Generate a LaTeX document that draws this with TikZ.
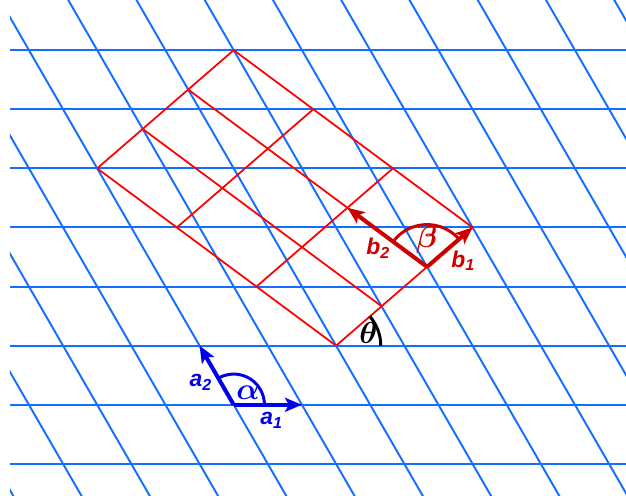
\documentclass[tikz,border=0pt]{standalone}
\usepackage{amsmath}
\usepackage{bm}
\usepackage{fontspec}
\usepackage{tikz}
\usetikzlibrary{arrows.meta}
\newfontfamily\labfont{Liberation Sans}
\definecolor{cGrid}{RGB}{20,110,255}
\definecolor{cA}{RGB}{0,0,235}
\definecolor{cRed}{RGB}{255,0,0}
\definecolor{cB}{RGB}{205,0,0}
\tikzset{
  gridline/.style={cGrid,line width=1.1pt},
  superline/.style={cRed,line width=1.0pt},
  avec/.style={cA,line width=2.3pt,-{Stealth[length=3.4mm,width=2.8mm,inset=0.8mm]}},
  bvec/.style={cB,line width=2.3pt,-{Stealth[length=3.4mm,width=2.8mm,inset=0.8mm]}},
  anglearc/.style={line width=1.7pt},
  veclab/.style={font=\labfont\bfseries\itshape\fontsize{13}{15}\selectfont},
  anglab/.style={font=\fontsize{16}{18}\selectfont}
}

\begin{document}
\begin{tikzpicture}[x=1.365cm,y=1.365cm]
\useasboundingbox (-3.424,-1.336) rectangle (5.748,5.931);
\begin{scope}
\clip (-3.278,-1.336) rectangle (5.748,5.931);
% horizontal rows
\draw[gridline] (-3.278,-0.866) -- (5.748,-0.866)
  (-3.278,0) -- (5.748,0)
  (-3.278,0.866) -- (5.748,0.866)
  (-3.278,1.732) -- (5.748,1.732)
  (-3.278,2.603) -- (5.748,2.603)
  (-3.278,3.464) -- (5.748,3.464)
  (-3.278,4.330) -- (5.748,4.330)
  (-3.278,5.196) -- (5.748,5.196);
% oblique rows
\draw[gridline] (-3,-1.732) -- (-7.5,6.062);
\draw[gridline] (-2,-1.732) -- (-6.5,6.062);
\draw[gridline] (-1,-1.732) -- (-5.5,6.062);
\draw[gridline] (0,-1.732) -- (-4.5,6.062);
\draw[gridline] (1,-1.732) -- (-3.5,6.062);
\draw[gridline] (2,-1.732) -- (-2.5,6.062);
\draw[gridline] (3,-1.732) -- (-1.5,6.062);
\draw[gridline] (4,-1.732) -- (-0.5,6.062);
\draw[gridline] (5,-1.732) -- (0.5,6.062);
\draw[gridline] (6,-1.732) -- (1.5,6.062);
\draw[gridline] (7,-1.732) -- (2.5,6.062);
\draw[gridline] (8,-1.732) -- (3.5,6.062);
\draw[gridline] (9,-1.732) -- (4.5,6.062);
\draw[gridline] (10,-1.732) -- (5.5,6.062);
\end{scope}
% red cell
\draw[superline] (1.5,0.866) -- (-2,3.4641);
\draw[superline] (2.1667,1.4434) -- (-1.3333,4.0415);
\draw[superline] (2.8333,2.0207) -- (-0.6667,4.6188);
\draw[superline] (3.5,2.5981) -- (0,5.1962);
\draw[superline] (1.5,0.866) -- (3.5,2.5981);
\draw[superline] (0.3333,1.7321) -- (2.3333,3.4641);
\draw[superline] (-0.8333,2.5981) -- (1.1667,4.3301);
\draw[superline] (-2,3.4641) -- (0,5.1962);
\coordinate (O) at (0,0);
\coordinate (A1) at (1,0);
\coordinate (A2) at (-0.5,0.866);
\coordinate (B) at (1.5,0.866);
\coordinate (P) at (2.8333,2.0207);
\coordinate (B1) at (3.5,2.5981);
\coordinate (B2) at (1.6667,2.8868);
\draw[anglearc,cA] (O) ++(0:0.45) arc[start angle=0,end angle=120,radius=0.45];
\draw[anglearc,black] (B) ++(0:0.655) arc[start angle=0,end angle=40.9,radius=0.655];
\draw[anglearc,cB] (P) ++(40.9:0.62) arc[start angle=40.9,end angle=143.4,radius=0.62];
\draw[avec] (O) -- (A1);
\draw[avec] (O) -- (A2);
\draw[bvec] (P) -- (B1);
\draw[bvec] (P) -- (B2);
\node[veclab,cA] (la1) at (0.557,-0.223) {a\textsubscript{1}};
\node[veclab,cA] (la2) at (-0.482,0.331) {a\textsubscript{2}};
\node[veclab,cB] (lb1) at (3.364,2.110) {b\textsubscript{1}};
\node[veclab,cB] (lb2) at (2.119,2.293) {b\textsubscript{2}};
\node[anglab,cA] (lal) at (0.209,0.173) {$\bm{\alpha}$};
\node[anglab,cB] (lbe) at (2.828,2.414) {$\bm{\beta}$};
\node[anglab,black] (lth) at (1.972,1.048) {$\bm{\theta}$};
\end{tikzpicture}
\end{document}
